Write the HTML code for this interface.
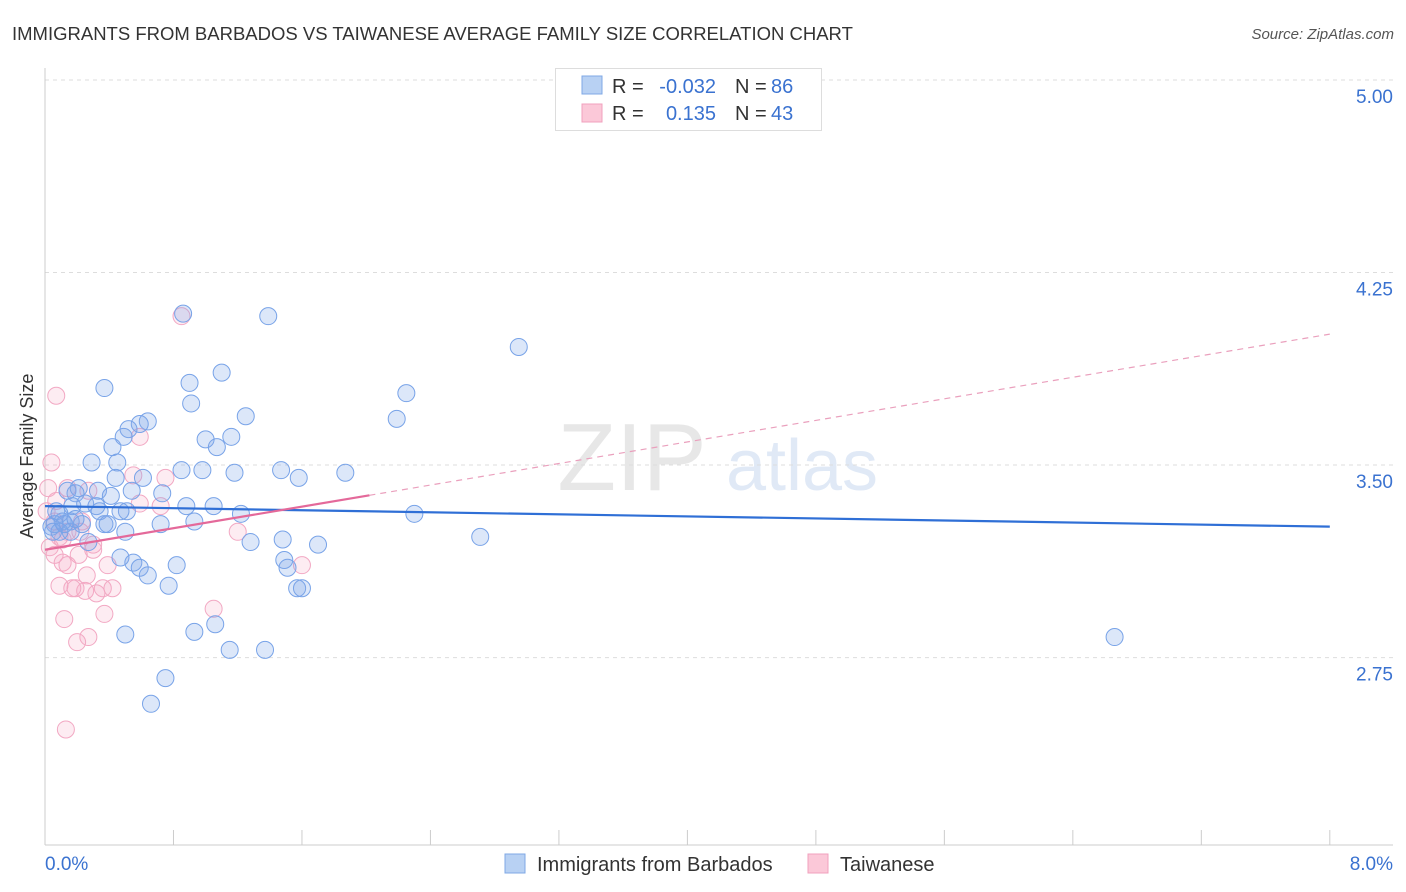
<!DOCTYPE html>
<html><head><meta charset="utf-8"><style>
body{margin:0;background:#fff;font-family:"Liberation Sans",sans-serif;}
#c{position:relative;width:1406px;height:892px;overflow:hidden;}
svg text{font-family:"Liberation Sans",sans-serif;}
</style></head><body>
<div id="c">
<svg id="s" width="1406" height="892">
<text x="12" y="40" font-size="18.5" fill="#333">IMMIGRANTS FROM BARBADOS VS TAIWANESE AVERAGE FAMILY SIZE CORRELATION CHART</text>
<text x="1394" y="39" font-size="15" fill="#555" font-style="italic" text-anchor="end">Source: ZipAtlas.com</text>
<text x="33" y="456" font-size="18" fill="#333" text-anchor="middle" transform="rotate(-90 33 456)">Average Family Size</text>
<g opacity="0.35">
<text x="632" y="490" font-size="96" font-family="Liberation Serif" fill="#bbb" text-anchor="middle">ZIP</text>
<text x="802" y="490" font-size="72" fill="#a8c2e8" text-anchor="middle">atlas</text>
</g>
<g id="grid"></g><g id="marks"></g><g id="lines"></g>
<g>
<rect x="555.5" y="68.5" width="266" height="62" fill="#fff" stroke="#ddd"/>
<rect x="582" y="76" width="20" height="18" fill="#b8d1f3" stroke="#7fa8e6"/>
<rect x="582" y="104" width="20" height="18" fill="#fbc8d8" stroke="#f0a0be"/>
<g font-size="20" fill="#333">
<text x="612" y="93">R =</text>
<text x="716" y="93" fill="#3a72d0" text-anchor="end">-0.032</text>
<text x="735" y="93">N =</text>
<text x="771" y="93" fill="#3a72d0">86</text>
<text x="612" y="120">R =</text>
<text x="716" y="120" fill="#3a72d0" text-anchor="end">0.135</text>
<text x="735" y="120">N =</text>
<text x="771" y="120" fill="#3a72d0">43</text>
</g>
</g>
<g>
<rect x="505" y="854" width="20" height="19" fill="#b8d1f3" stroke="#7fa8e6"/>
<text x="537" y="871" font-size="20" fill="#333">Immigrants from Barbados</text>
<rect x="808" y="854" width="20" height="19" fill="#fbc8d8" stroke="#f0a0be"/>
<text x="840" y="871" font-size="20" fill="#333">Taiwanese</text>
</g>
</svg></div>
<script>
const xTicks=[0,0.8,1.6,2.4,3.2,4,4.8,5.6,6.4,7.2,8];
const yTicks=[5.00,4.25,3.50,2.75];
const yTickLabels=["5.00","4.25","3.50","2.75"];
const blueX=[0.86,1.39,2.95,0.37,0.90,1.10,2.25,0.91,1.25,2.19,0.64,0.59,0.52,0.49,1.00,1.16,0.42,1.07,0.29,0.45,0.85,0.98,1.47,1.87,1.18,1.58,0.61,0.44,0.21,0.14,0.54,0.33,0.73,0.19,0.41,0.25,0.07,0.32,0.51,0.17,1.05,0.88,0.34,0.47,1.22,2.30,0.11,0.16,0.06,0.04,0.37,0.39,0.72,0.93,0.23,0.50,0.16,0.09,0.05,0.27,1.28,1.48,1.70,2.71,0.47,0.55,1.49,0.59,0.82,0.64,1.51,0.77,1.57,1.60,0.50,0.93,1.06,1.15,1.37,0.75,0.66,6.66,0.09,0.12,0.19];
const blueY=[4.09,4.08,3.96,3.80,3.82,3.86,3.78,3.74,3.69,3.68,3.67,3.66,3.64,3.61,3.60,3.61,3.57,3.57,3.51,3.51,3.48,3.48,3.48,3.47,3.47,3.45,3.45,3.45,3.41,3.40,3.40,3.40,3.39,3.39,3.38,3.35,3.32,3.34,3.32,3.34,3.34,3.34,3.32,3.32,3.31,3.31,3.28,3.28,3.27,3.26,3.27,3.27,3.27,3.28,3.27,3.24,3.24,3.24,3.24,3.20,3.20,3.21,3.19,3.22,3.14,3.12,3.13,3.10,3.11,3.07,3.10,3.03,3.02,3.02,2.84,2.85,2.88,2.78,2.78,2.67,2.57,2.83,3.31,3.27,3.29];
const pinkX=[0.85,0.07,0.59,0.04,0.55,0.75,0.14,0.02,0.27,0.72,0.59,0.23,0.09,1.20,0.14,0.03,0.06,0.30,0.21,0.39,0.11,1.60,0.26,0.14,0.09,0.19,0.36,0.25,0.32,0.42,0.17,1.05,0.37,0.12,0.27,0.20,0.13,0.01,0.06,0.11,0.22,0.07,0.30];
const pinkY=[4.08,3.77,3.61,3.51,3.46,3.45,3.41,3.41,3.40,3.34,3.35,3.28,3.22,3.24,3.24,3.18,3.15,3.17,3.15,3.11,3.12,3.11,3.07,3.11,3.03,3.02,3.02,3.01,3.00,3.02,3.02,2.94,2.92,2.90,2.83,2.81,2.47,3.32,3.28,3.21,3.24,3.36,3.19];
const blueTrend=[3.34,3.26];   // y at x=0 and x=8
const pinkTrend=[3.17,4.01];   // y at x=0 and x=8
const pinkSolidEnd=2.02;
const NS="http://www.w3.org/2000/svg";
const X=v=>45+v*160.6;
const Y=v=>80+(5-v)*256.7;
function mk(t,a,p){const e=document.createElementNS(NS,t);for(const k in a)e.setAttribute(k,a[k]);p.appendChild(e);return e;}
const grid=document.getElementById('grid');
yTicks.forEach((t,i)=>{
 const l=mk('line',{x1:45,x2:1393,y1:Y(t),y2:Y(t),stroke:'#ddd','stroke-dasharray':'4,4'},grid);
 
 
 const tx=mk('text',{x:1393,y:Y(t)+23,'font-size':19,fill:'#3a72d0','text-anchor':'end'},grid);
 tx.textContent=yTickLabels[i];
 
 
});
const ax=mk('line',{x1:45,x2:45,y1:68,y2:845,stroke:'#ccc'},grid);


const bx=mk('line',{x1:45,x2:1393,y1:845,y2:845,stroke:'#ccc'},grid);


xTicks.forEach(t=>{
 const l=mk('line',{x1:X(t),x2:X(t),y1:830,y2:845,stroke:'#ccc'},grid);
 
 
});
const xl0=mk('text',{x:45,y:870,'font-size':19,fill:'#3a72d0'},grid);xl0.textContent=xTicks[0].toFixed(1)+'%';


const xl1=mk('text',{x:1393,y:870,'font-size':19,fill:'#3a72d0','text-anchor':'end'},grid);xl1.textContent=xTicks[xTicks.length-1].toFixed(1)+'%';


const marks=document.getElementById('marks');
pinkX.forEach((x,i)=>{
 const c=mk('circle',{cx:X(x),cy:Y(pinkY[i]),r:8.5,fill:'rgba(246,170,198,0.22)',stroke:'#f2a8c3','stroke-width':1},marks);
 
 
});
blueX.forEach((x,i)=>{
 const c=mk('circle',{cx:X(x),cy:Y(blueY[i]),r:8.5,fill:'rgba(130,170,235,0.28)',stroke:'#78a3e8','stroke-width':1},marks);
 
 
});
const lines=document.getElementById('lines');
const bl=mk('line',{x1:X(0),y1:Y(blueTrend[0]),x2:X(8),y2:Y(blueTrend[1]),stroke:'#2f6fd6','stroke-width':2.2},lines);


const py=x=>pinkTrend[0]+(pinkTrend[1]-pinkTrend[0])*x/8;
const pl=mk('line',{x1:X(0),y1:Y(py(0)),x2:X(pinkSolidEnd),y2:Y(py(pinkSolidEnd)),stroke:'#e4699a','stroke-width':2.2},lines);


const pd=mk('line',{x1:X(pinkSolidEnd),y1:Y(py(pinkSolidEnd)),x2:X(8),y2:Y(py(8)),stroke:'#eaa0bd','stroke-width':1.2,'stroke-dasharray':'6,5'},lines);


</script>
</body></html>
